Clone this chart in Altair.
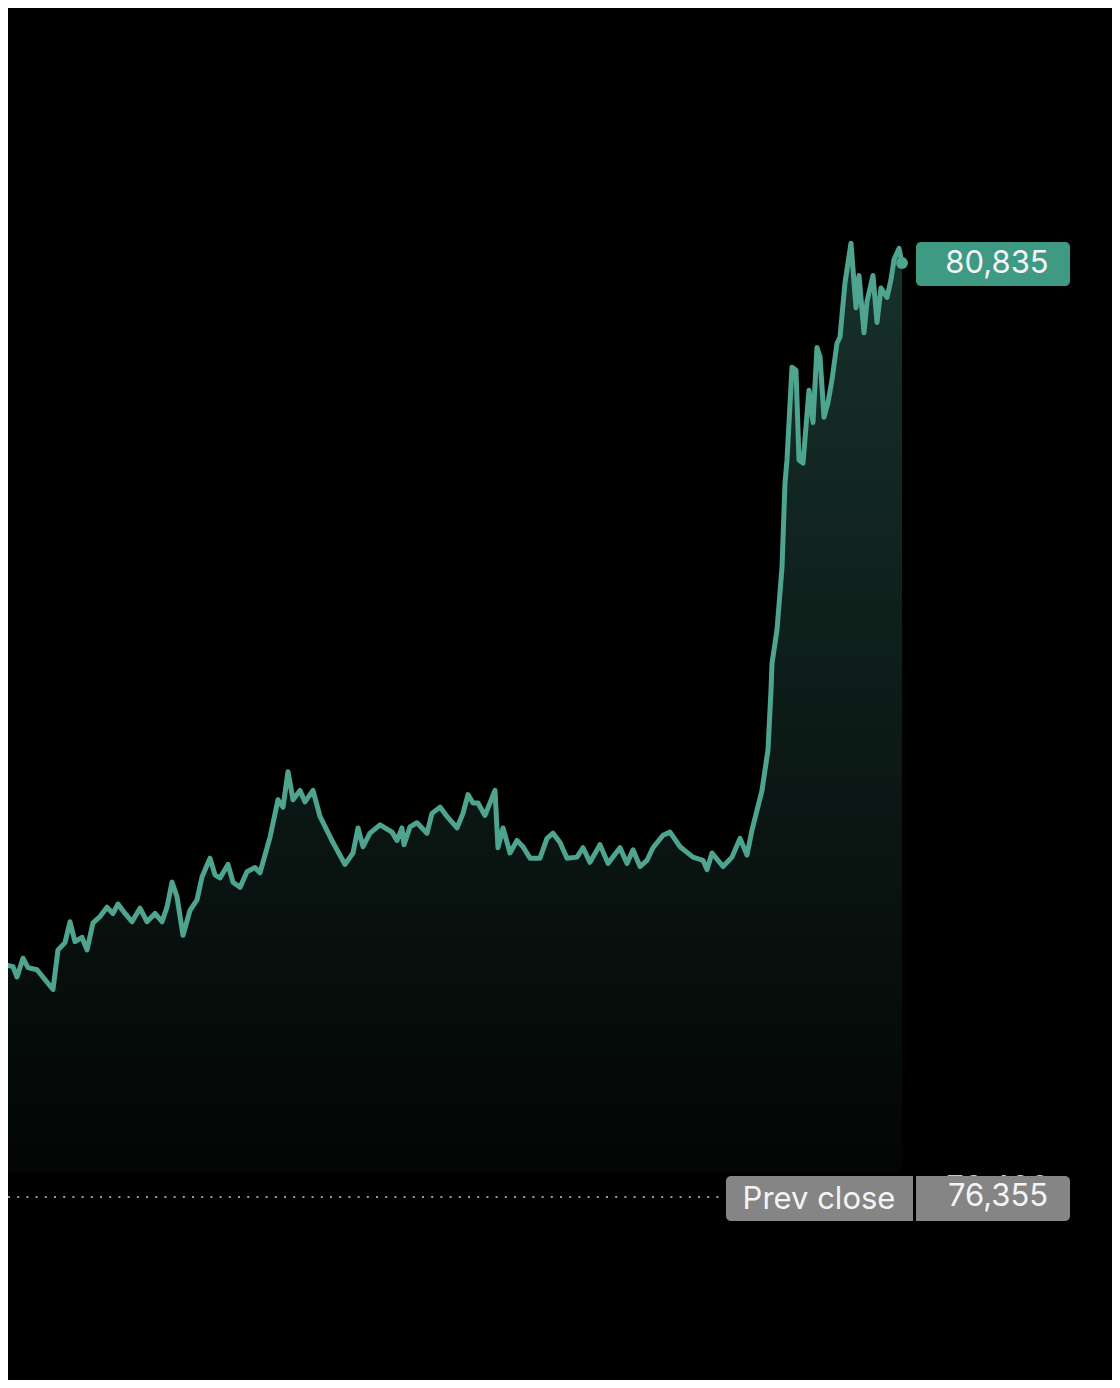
import altair as alt
import pandas as pd

# intraday samples (feed tick number) and traded price
tick = [0,3,13,17,23,28,37,53,58,65,
        70,75,82,87,93,100,107,113,118,125,
        132,140,147,155,162,167,172,177,183,190,
        197,202,210,215,220,228,233,240,247,255,
        260,270,278,283,288,293,300,305,313,320,
        333,345,353,358,363,370,380,392,397,402,
        404,410,417,427,432,440,447,457,463,468,
        473,478,485,490,495,498,503,510,517,523,
        530,540,547,553,560,567,577,583,590,600,
        608,620,627,633,640,647,653,663,670,680,
        693,703,707,712,723,732,740,747,752,762,
        768,771,772,777,782,785,787,792,796,799,
        803,809,813,817,820,824,828,832,837,840,
        845,848,851,856,859,864,867,873,877,881,
        887,891,894,899,902]
price = [77600,77470,77460,77410,77500,77455,77445,77350,77540,77575,
         77675,77580,77600,77540,77670,77700,77745,77715,77760,77715,
         77675,77740,77675,77715,77675,77745,77865,77795,77610,77730,
         77780,77890,77980,77900,77885,77950,77865,77840,77915,77935,
         77910,78080,78260,78225,78395,78260,78305,78250,78305,78180,
         78055,77950,78005,78125,78035,78100,78140,78105,78065,78125,
         78045,78130,78150,78100,78195,78225,78180,78125,78195,78285,
         78245,78245,78185,78245,78305,78030,78125,78005,78065,78035,
         77980,77980,78075,78100,78055,77980,77985,78030,77960,78045,
         77955,78030,77955,78020,77940,77970,78030,78090,78105,78035,
         77985,77970,77925,78005,77940,77985,78075,77995,78115,78305,
         78500,78785,78915,79075,79375,79780,79890,80335,80320,79890,
         79875,80225,80070,80430,80385,80095,80165,80275,80450,80480,
         80740,80835,80930,80620,80775,80500,80650,80775,80550,80715,
         80670,80755,80850,80905,80835]
assert len(tick) == len(price)

last_price = 80835
prev_close = 76355
hidden_grid_label = "76,400"
area_floor = 76475

LINE = "#4ea48e"
BOX_GREEN = "#3f9a84"
BOX_GRAY = "#858585"
FONT = "Inter"

df = pd.DataFrame({"tick": tick, "price": price})
last_df = df.tail(1)

xs = alt.Scale(domain=[8, 1112], nice=False, zero=False)
ys = alt.Scale(domain=[75477, 82058], nice=False, zero=False)
X = alt.X("tick:Q", scale=xs, axis=None)
Y = alt.Y("price:Q", scale=ys, axis=None)

grad = alt.Gradient(
    gradient="linear",
    stops=[alt.GradientStop(color="rgba(78,164,142,0.30)", offset=0),
           alt.GradientStop(color="rgba(78,164,142,0.03)", offset=1)],
    x1=1, x2=1, y1=0, y2=1,
)

area = alt.Chart(df).mark_area(color=grad, clip=True).encode(
    x=X, y=Y, y2=alt.datum(area_floor)
)
line = alt.Chart(df).mark_line(color=LINE, strokeWidth=5, clip=True,
                               strokeJoin="round", strokeCap="round").encode(x=X, y=Y)
dot = alt.Chart(last_df).mark_point(filled=True, color=LINE, size=140,
                                    opacity=1).encode(x=X, y=Y)

base = alt.Chart(pd.DataFrame({"k": [0]}))

rule = base.mark_rule(color="#9a9a9a", strokeWidth=2, strokeDash=[2, 7.2]).encode(
    x=alt.value(0), x2=alt.value(712), y=alt.datum(prev_close, scale=ys)
)

hidden = base.mark_text(color="#c8c8c8", font=FONT, fontSize=31, align="center",
                        baseline="middle", dy=-8).encode(
    x=alt.value(990), y=alt.datum(prev_close, scale=ys),
    text=alt.value(hidden_grid_label)
)

box_last = base.mark_rect(color=BOX_GREEN, cornerRadius=5, yOffset=-21,
                          y2Offset=23).encode(
    x=alt.value(908), x2=alt.value(1062),
    y=alt.datum(last_price, scale=ys), y2=alt.datum(last_price)
)
txt_last = base.mark_text(color="#f4f4f4", font=FONT, fontSize=31, align="center",
                          baseline="middle", dy=1).encode(
    x=alt.value(989), y=alt.datum(last_price, scale=ys), text=alt.value("80,835")
)

box_pc = base.mark_rect(color=BOX_GRAY, cornerRadiusTopLeft=5,
                        cornerRadiusBottomLeft=5, yOffset=-21, y2Offset=24).encode(
    x=alt.value(718), x2=alt.value(905),
    y=alt.datum(prev_close, scale=ys), y2=alt.datum(prev_close)
)
box_val = base.mark_rect(color=BOX_GRAY, cornerRadiusTopRight=5,
                         cornerRadiusBottomRight=5, yOffset=-21, y2Offset=24).encode(
    x=alt.value(908), x2=alt.value(1062),
    y=alt.datum(prev_close, scale=ys), y2=alt.datum(prev_close)
)
txt_pc = base.mark_text(color="#f4f4f4", font=FONT, fontSize=31, align="center",
                        baseline="middle", dy=3).encode(
    x=alt.value(811), y=alt.datum(prev_close, scale=ys), text=alt.value("Prev close")
)
txt_val = base.mark_text(color="#f4f4f4", font=FONT, fontSize=31, align="center",
                         baseline="middle", dy=0).encode(
    x=alt.value(990), y=alt.datum(prev_close, scale=ys), text=alt.value("76,355")
)

chart = alt.layer(
    area, line, dot, rule, hidden, box_last, txt_last, box_pc, box_val, txt_pc, txt_val
).properties(
    width=1104, height=1372, padding=0, autosize=alt.AutoSizeParams(type="none"),
    background="#000000",
).configure_view(stroke=None)

chart.save("out.html", embed_options={"renderer": "svg", "actions": False})
